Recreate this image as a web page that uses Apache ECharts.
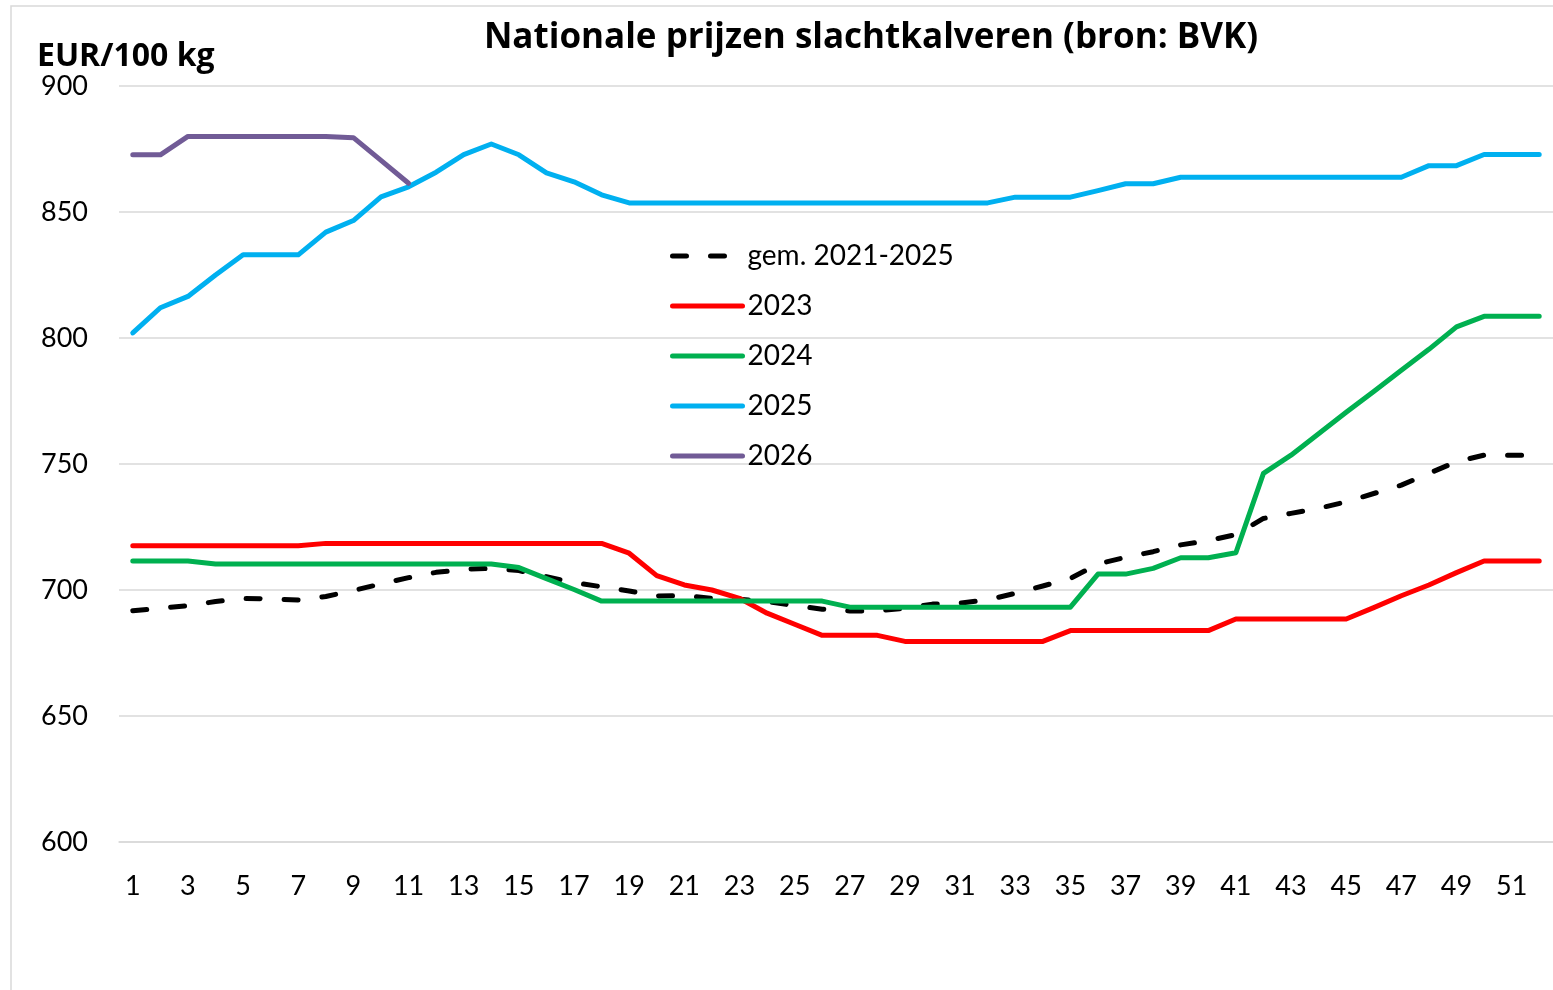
<!DOCTYPE html>
<html>
<head>
<meta charset="utf-8">
<script src="https://cdn.jsdelivr.net/npm/echarts@6/dist/echarts.min.js"></script>
<style>
html,body{margin:0;padding:0;background:#fff;}
#c{width:1553px;height:990px;}
</style>
</head>
<body>
<div id="c"></div>
<script>
const weeks = Array.from({length: 52}, (_, i) => String(i + 1));
const avg2125 = [691.8,692.8,693.8,695.4,696.6,696.5,696,697.4,699.8,702.4,704.9,707,708.2,708.6,707.7,705.3,702.9,701.3,699.6,697.6,697.8,696.7,696.3,695.4,693.8,692.4,691.7,691.7,692.8,694.4,694.8,696.1,698.7,701.6,704.6,710.3,713,715.2,717.9,719.6,722,728.4,730.4,732.4,735,738.3,741.6,746.3,750.9,753.5,753.5,753.5];
const y2023 = [717.6,717.6,717.6,717.6,717.6,717.6,717.6,718.5,718.5,718.5,718.5,718.5,718.5,718.5,718.5,718.5,718.5,718.5,714.6,705.7,702,700,696.7,690.8,686.4,682,682,682,679.6,679.6,679.6,679.6,679.6,679.6,683.9,683.9,683.9,683.9,683.9,683.9,688.5,688.5,688.5,688.5,688.5,693,697.7,702,706.9,711.5,711.5,711.5];
const y2024 = [711.5,711.5,711.5,710.3,710.3,710.3,710.3,710.3,710.3,710.3,710.3,710.3,710.3,710.3,708.9,704.5,700.2,695.6,695.6,695.6,695.6,695.6,695.6,695.6,695.6,695.6,693.2,693.2,693.2,693.2,693.2,693.2,693.2,693.2,693.2,706.3,706.3,708.6,712.8,712.8,714.8,746.3,753.5,762,770.5,778.8,787.2,795.5,804.4,808.6,808.6,808.6];
const y2025 = [802,812,816.5,825,833,833,833,842,846.6,856,860,865.8,872.8,877,872.7,865.5,862,856.8,853.6,853.6,853.6,853.6,853.6,853.6,853.6,853.6,853.6,853.6,853.6,853.6,853.6,853.6,855.9,855.9,855.9,858.5,861.2,861.2,863.8,863.8,863.8,863.8,863.8,863.8,863.8,863.8,863.8,868.4,868.4,872.8,872.8,872.8];
const y2026 = [872.7,872.7,880,880,880,880,880,880,879.5,870.5,861.4];
const yTicks = [600, 650, 700, 750, 800, 850, 900];

const FONT = 'Lato, "Open Sans", sans-serif';
const BOLDFONT = '"Open Sans", Lato, sans-serif';
const chart = echarts.init(document.getElementById('c'), null, {renderer: 'canvas'});

function lineSeries(name, data, color, dashed) {
  return {
    name: name,
    type: 'line',
    data: data,
    symbol: 'none',
    showSymbol: false,
    smooth: false,
    animation: false,
    lineStyle: {
      color: color,
      width: 5,
      type: dashed ? [14, 24] : 'solid',
      cap: 'round',
      join: 'round'
    },
    itemStyle: {color: color}
  };
}

chart.setOption({
  backgroundColor: '#ffffff',
  animation: false,
  title: [
    {
      text: 'Nationale prijzen slachtkalveren (bron: BVK)',
      left: 866,
      top: 16,
      textAlign: 'center',
      textStyle: {fontFamily: BOLDFONT, fontWeight: 'bold', fontSize: 35, color: '#000'}
    },
    {
      text: 'EUR/100 kg',
      left: 32,
      top: 36,
      textStyle: {fontFamily: BOLDFONT, fontWeight: 'bold', fontSize: 32, color: '#000'}
    }
  ],
  graphic: [
    {
      type: 'rect',
      silent: true,
      shape: {x: 11, y: 6, width: 1700, height: 1200},
      style: {fill: 'none', stroke: '#d9d9d9', lineWidth: 1.5}
    }
  ],
  legend: {
    orient: 'vertical',
    left: 665,
    top: 236,
    itemWidth: 70,
    itemHeight: 14,
    itemGap: 20,
    data: ['gem. 2021-2025', '2023', '2024', '2025', '2026'],
    itemStyle: {opacity: 0},
    lineStyle: {width: 5, cap: 'round'},
    textStyle: {fontFamily: FONT, fontSize: 28, color: '#000', lineHeight: 30, padding: [0, 0, 0, 0]}
  },
  grid: {left: 119, right: -1, top: 86, bottom: 148, containLabel: false},
  xAxis: {
    type: 'category',
    data: weeks,
    boundaryGap: true,
    axisLine: {show: true, lineStyle: {color: '#d9d9d9', width: 1.5}},
    axisTick: {show: false},
    axisLabel: {interval: 1, margin: 31, fontFamily: FONT, fontSize: 27, color: '#000'},
    splitLine: {show: false}
  },
  yAxis: {
    type: 'value',
    min: yTicks[0],
    max: yTicks[yTicks.length - 1],
    interval: 50,
    axisLine: {show: false},
    axisTick: {show: false},
    axisLabel: {margin: 31, fontFamily: FONT, fontSize: 27, color: '#000'},
    splitLine: {show: true, lineStyle: {color: '#d9d9d9', width: 1.5}}
  },
  series: [
    lineSeries('gem. 2021-2025', avg2125, '#000000', true),
    lineSeries('2023', y2023, '#ff0000', false),
    lineSeries('2024', y2024, '#00b050', false),
    lineSeries('2025', y2025, '#00b0f0', false),
    lineSeries('2026', y2026, '#715b96', false)
  ]
});
</script>
</body>
</html>
